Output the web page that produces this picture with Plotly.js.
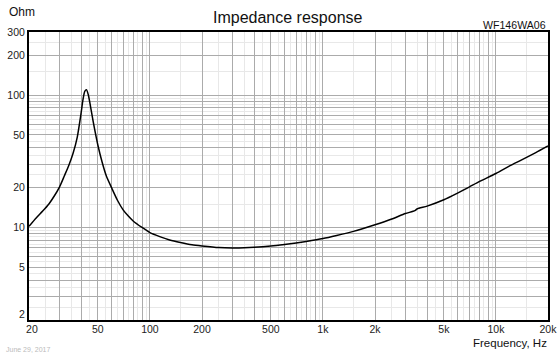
<!DOCTYPE html>
<html>
<head>
<meta charset="utf-8">
<script src="https://cdn.plot.ly/plotly-3.0.1.min.js"></script>
<style>html,body{margin:0;padding:0;background:#fff;}#chart{width:560px;height:354px;}</style>
</head>
<body>
<div id="chart"></div>
<script>
// Frequency (Hz) and impedance (Ohm)
const freq = [20, 22, 24, 26, 28, 30, 32, 34, 36, 38, 40, 41, 42, 43, 44, 45, 47, 50, 53, 56, 60, 65, 70, 75, 80, 90, 100, 115, 130, 150, 175, 200, 250, 300, 350, 400, 500, 600, 700, 800, 1000, 1200, 1500, 2000, 2500, 3000, 3400, 3500, 4000, 5000, 6000, 7000, 8000, 10000, 12000, 14000, 17000, 20000];
const impedance = [10.2, 11.8, 13.3, 15.0, 17.3, 20.2, 24.5, 29.5, 36.5, 48, 73, 92, 107, 110, 101, 87, 63, 42, 31, 24.5, 20, 16, 13.6, 12.2, 11.2, 10.0, 9.15, 8.5, 8.05, 7.7, 7.4, 7.25, 7.05, 7.0, 7.02, 7.08, 7.25, 7.45, 7.65, 7.85, 8.25, 8.7, 9.35, 10.5, 11.6, 12.75, 13.4, 13.8, 14.5, 16.2, 18.2, 20.2, 22.2, 25.6, 29.2, 32.3, 36.8, 41.3];

const xTickVals = [20, 50, 100, 200, 500, 1000, 2000, 5000, 10000, 20000];
const xTickText = ['\u00a0\u00a020', '50', '100', '200', '500', '1k', '2k', '5k', '10k', '20k'];
const yTickVals = [5, 10, 20, 50, 100, 200, 300];
const yTickText = ['5', '10', '20', '50', '100', '200', '300'];
const yBottomLabel = '2';

function grid(lo, hi, half) {
  const out = [];
  for (let d = 1; d <= 10000; d *= 10) {
    for (let m = 1; m < 10; m++) {
      const v = half ? (m + 0.5) * d : m * d;
      if (v >= lo - 1e-9 && v <= hi + 1e-9) out.push(+v.toPrecision(6));
    }
  }
  return out;
}
function withText(vals, tv, tt) {
  return vals.map(v => { const i = tv.indexOf(v); return i >= 0 ? tt[i] : ''; });
}
const xMajor = grid(20, 20000, false);
const xMinor = grid(20, 20000, true);
const yMajor = grid(2, 300, false);
const yMinor = grid(2, 300, true);

const W = 519, H = 288, L = 29, T = 32;
const px = x => (x - L) / W;
const py = y => (T + H - y) / H;

const font = 'Liberation Sans, Arial, sans-serif';

Plotly.newPlot('chart', [{
  x: freq, y: impedance, type: 'scatter', mode: 'lines',
  line: {color: '#000', width: 1.5, shape: 'spline', smoothing: 0.6},
  hoverinfo: 'skip'
}], {
  width: 560, height: 354,
  margin: {l: 29, r: 12, t: 32, b: 34, pad: 0},
  paper_bgcolor: '#fff', plot_bgcolor: '#fff',
  showlegend: false,
  font: {family: font, size: 10, color: '#222'},
  xaxis: {
    type: 'log', range: [Math.log10(20), Math.log10(20000)],
    tickmode: 'array', tickvals: xMajor, ticktext: withText(xMajor, xTickVals, xTickText),
    ticks: '', showgrid: true, gridcolor: '#ababab', gridwidth: 1,
    minor: {tickmode: 'array', tickvals: xMinor, showgrid: true, gridcolor: '#e8e8e8', gridwidth: 1, ticks: ''},
    showline: true, linecolor: '#000', linewidth: 2, mirror: true, zeroline: false,
    ticklabelstandoff: -2,
    tickfont: {family: font, size: 10.5, color: '#222'}, fixedrange: true
  },
  yaxis: {
    type: 'log', range: [Math.log10(2), Math.log10(300)],
    tickmode: 'array', tickvals: yMajor, ticktext: withText(yMajor, yTickVals, yTickText),
    ticks: '', showgrid: true, gridcolor: '#ababab', gridwidth: 1,
    minor: {tickmode: 'array', tickvals: yMinor, showgrid: true, gridcolor: '#e8e8e8', gridwidth: 1, ticks: ''},
    showline: true, linecolor: '#000', linewidth: 2, mirror: true, zeroline: false,
    tickfont: {family: font, size: 10.5, color: '#222'}, fixedrange: true
  },
  annotations: [
    {text: 'Impedance response', xref: 'paper', yref: 'paper', x: px(288), y: py(18), xanchor: 'center', yanchor: 'middle', showarrow: false, font: {family: font, size: 16, color: '#111'}},
    {text: 'Ohm', xref: 'paper', yref: 'paper', x: px(7), y: py(12), xanchor: 'left', yanchor: 'middle', showarrow: false, font: {family: font, size: 12, color: '#111'}},
    {text: 'WF146WA06', xref: 'paper', yref: 'paper', x: px(548), y: py(25), xanchor: 'right', yanchor: 'middle', showarrow: false, font: {family: font, size: 10.6, color: '#111'}},
    {text: 'Frequency, Hz', xref: 'paper', yref: 'paper', x: px(549), y: py(343), xanchor: 'right', yanchor: 'middle', showarrow: false, font: {family: font, size: 11.5, color: '#111'}},
    {text: 'June 29, 2017', xref: 'paper', yref: 'paper', x: px(4), y: py(349), xanchor: 'left', yanchor: 'middle', showarrow: false, font: {family: font, size: 7, color: '#bbbbbb'}},
    {text: yBottomLabel, xref: 'paper', yref: 'paper', x: px(27), y: py(314), xanchor: 'right', yanchor: 'middle', showarrow: false, font: {family: font, size: 10.5, color: '#222'}}
  ]
}, {staticPlot: true, displayModeBar: false});
</script>
</body>
</html>
